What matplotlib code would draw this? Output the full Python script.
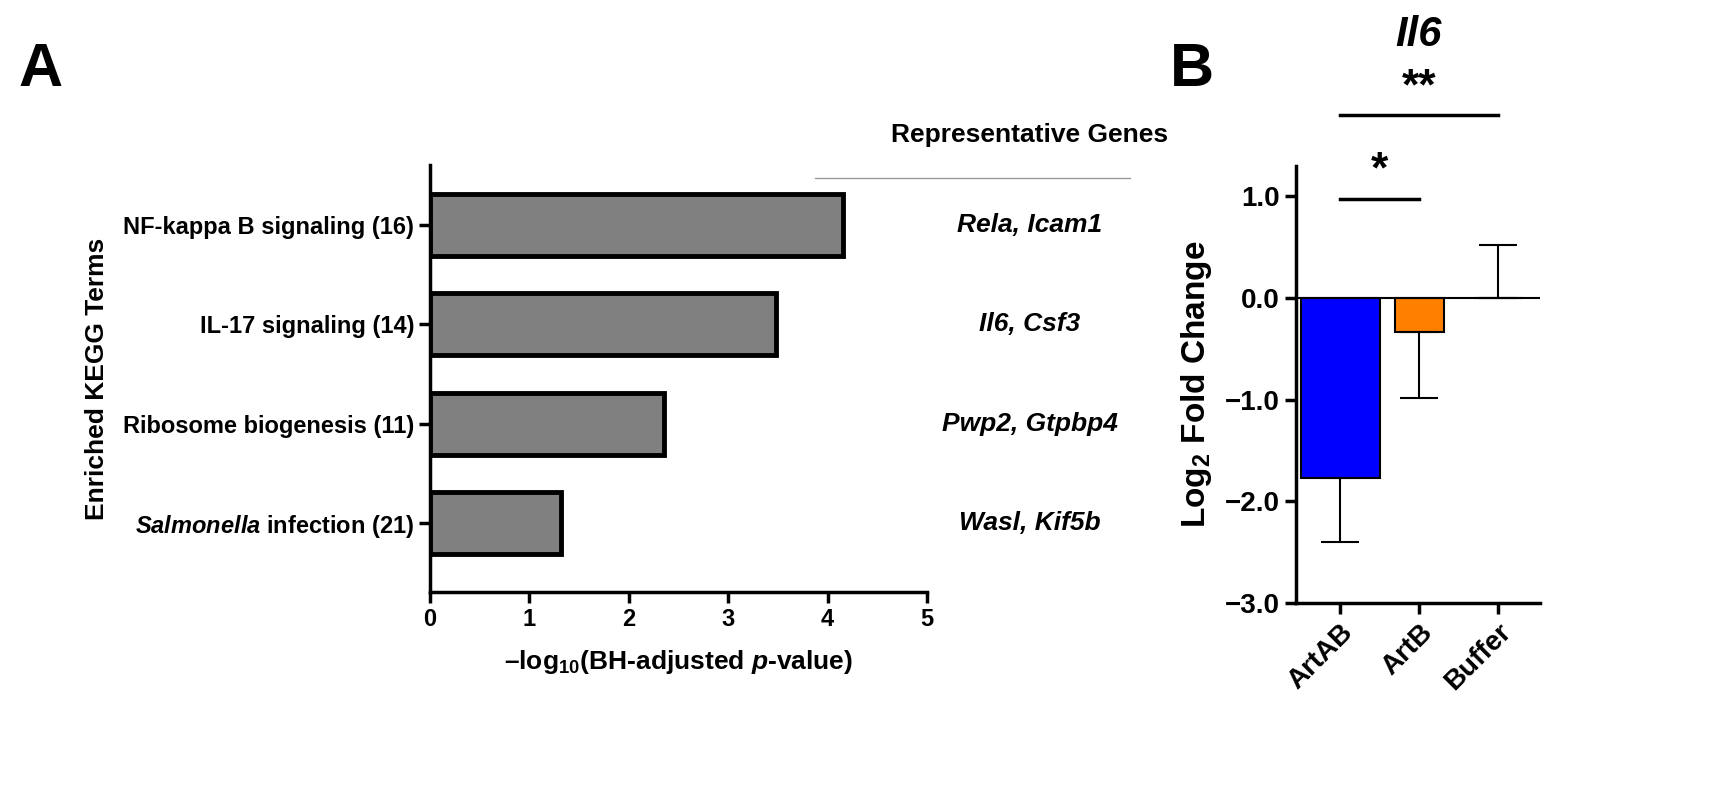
import matplotlib
matplotlib.use("Agg")
import matplotlib.pyplot as plt
import matplotlib.transforms as mt

plt.rcParams['font.family'] = ['Liberation Sans', 'DejaVu Sans']
plt.rcParams['font.weight'] = 'bold'
plt.rcParams['mathtext.fontset'] = 'custom'
plt.rcParams['mathtext.rm'] = 'Liberation Sans:bold'
plt.rcParams['mathtext.it'] = 'Liberation Sans:italic:bold'
plt.rcParams['mathtext.bf'] = 'Liberation Sans:bold'
plt.rcParams['mathtext.default'] = 'rm'

terms = ["NF-kappa B signaling (16)", "IL-17 signaling (14)", "Ribosome biogenesis (11)", "$\\mathit{Salmonella}$ infection (21)"]
neglogp = [4.15, 3.48, 2.35, 1.32]
genes = ["Rela, Icam1", "Il6, Csf3", "Pwp2, Gtpbp4", "Wasl, Kif5b"]

groups = ["ArtAB", "ArtB", "Buffer"]
lfc = [-1.77, -0.33, 0.0]
err_lo = [0.63, 0.65, 0.0]
err_hi = [0.0, 0.0, 0.52]
colors = ["#0000ff", "#ff8000", "#000000"]

fig = plt.figure(figsize=(17.18, 7.93), dpi=100)
W, H = 1718, 793

# Panel A
axA = fig.add_axes([430/W, 1-592/H, (927-430)/W, (592-165)/H])
ys = list(range(len(terms)))
axA.barh(ys, neglogp, height=0.62, color="#808080", edgecolor="black", linewidth=3.5)
axA.set_ylim(3.69, -0.6)
axA.set_xlim(0, 5)
axA.set_yticks(ys)
axA.set_yticklabels(terms, fontsize=17, fontweight='bold')
axA.set_xticks(range(6))
axA.tick_params(labelsize=17, width=2.5, length=8)
for lbl in axA.get_xticklabels():
    lbl.set_fontweight('bold')
for s in ['top', 'right']:
    axA.spines[s].set_visible(False)
for s in ['left', 'bottom']:
    axA.spines[s].set_linewidth(2.5)
axA.set_xlabel("–log$_{10}$(BH-adjusted $\\mathit{p}$-value)", fontsize=19, fontweight='bold', labelpad=12)
axA.set_ylabel("Enriched KEGG Terms", fontsize=19, fontweight='bold', labelpad=10)
tr = mt.blended_transform_factory(fig.transFigure, axA.transData)
for y, g in zip(ys, genes):
    axA.text(1030/W, y, g, transform=tr, ha='center', va='center', fontsize=19, fontweight='bold', style='italic')
fig.text(1030/W, 1-135/H, "Representative Genes", ha='center', va='center', fontsize=19, fontweight='bold')
fig.add_artist(plt.Line2D([815/W, 1130/W], [1-178/H, 1-178/H], color='#999999', linewidth=1))

# Panel B
axB = fig.add_axes([1296/W, 1-603/H, (1540-1296)/W, (603-166)/H])
xs = list(range(len(groups)))
axB.bar(xs, lfc, width=[1.0, 0.62, 0.62], color=colors, edgecolor='black', linewidth=1.5)
axB.errorbar(xs, lfc, yerr=[err_lo, err_hi], fmt='none', ecolor='black', elinewidth=1.5, capsize=14, capthick=1.5)
axB.axhline(0, color='black', linewidth=1.5)
axB.set_xlim(-0.56, 2.53)
axB.set_ylim(-3, 1.3)
axB.set_yticks([-3, -2, -1, 0, 1])
axB.set_yticklabels(["−3.0", "−2.0", "−1.0", "0.0", "1.0"])
axB.set_xticks(xs)
axB.set_xticklabels(groups, rotation=45, ha='right', rotation_mode='anchor')
axB.tick_params(labelsize=20, width=2.5, length=8)
for lbl in axB.get_xticklabels() + axB.get_yticklabels():
    lbl.set_fontweight('bold')
for s in ['top', 'right']:
    axB.spines[s].set_visible(False)
for s in ['left', 'bottom']:
    axB.spines[s].set_linewidth(2.5)
axB.set_ylabel("Log$_2$ Fold Change", fontsize=24, fontweight='bold', labelpad=8)
axB.plot([0, 1], [0.98, 0.98], color='black', linewidth=2.5, clip_on=False)
axB.text(0.5, 1.05, "*", ha='center', va='bottom', fontsize=32, fontweight='bold')
axB.plot([0, 2], [1.8, 1.8], color='black', linewidth=2.5, clip_on=False)
axB.text(1.0, 1.87, "**", ha='center', va='bottom', fontsize=32, fontweight='bold')
fig.text(1418/W, 1-35/H, "Il6", ha='center', va='center', fontsize=30, fontweight='bold', style='italic')

fig.text(18/W, 1-70/H, "A", ha='left', va='center', fontsize=44, fontweight='bold')
fig.text(1170/W, 1-70/H, "B", ha='left', va='center', fontsize=44, fontweight='bold')

fig.savefig("out.png", dpi=100)
